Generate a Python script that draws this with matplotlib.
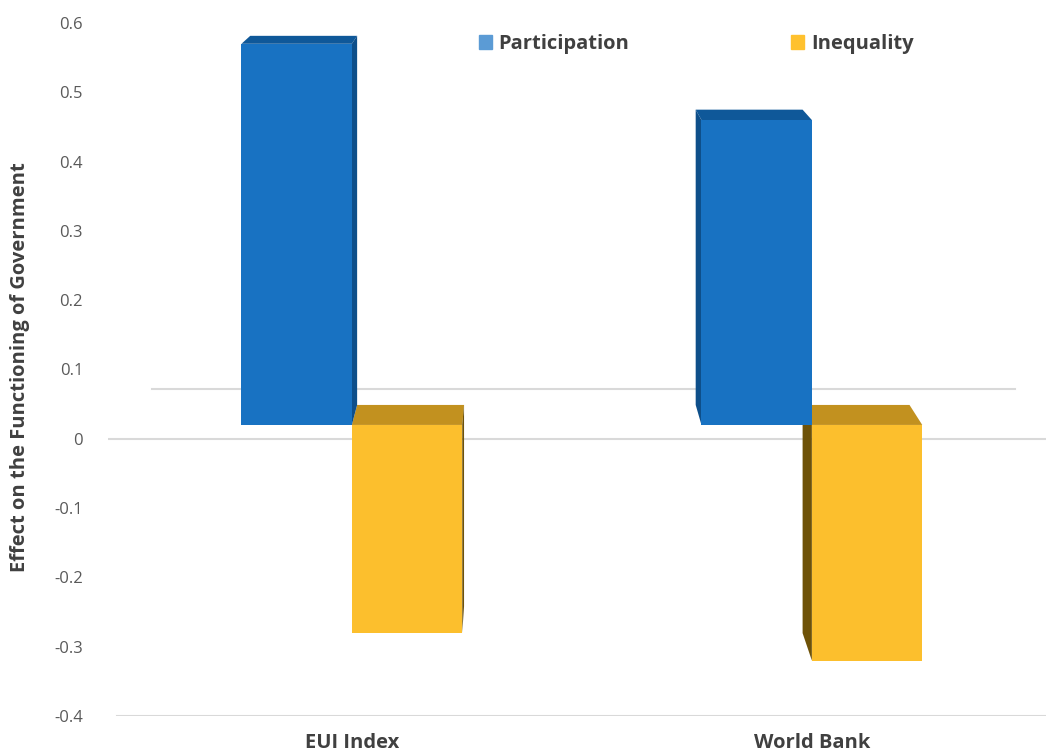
import matplotlib.pyplot as plt
from matplotlib.patches import Polygon, Patch

categories = ["EUI Index", "World Bank"]
participation = [0.55, 0.44]
inequality = [-0.30, -0.34]
yticks = [0.6, 0.5, 0.4, 0.3, 0.2, 0.1, 0, -0.1, -0.2, -0.3, -0.4]

plt.rcParams["font.family"] = ["Open Sans", "DejaVu Sans"]

fig = plt.figure(figsize=(10.46, 7.54), dpi=100)
ax = fig.add_axes([0.1033, 0.0504, 0.8967, 0.9191])

# fake 3D: bars are lifted a bit and get a top and side face pulled toward a vanishing point
lift = 0.02
vp = (0.363, 0.933)
k = 0.0316
width = 0.24


def back(x, y):
    return (x + (vp[0] - x) * k, y + (vp[1] - y) * k)


def box(x_center, value, front, dark, top_col, z):
    x0, x1 = x_center - width / 2, x_center + width / 2
    lo, hi = (lift, lift + value) if value > 0 else (lift + value, lift)
    top = [(x0, hi), (x1, hi), back(x1, hi), back(x0, hi)]
    ax.add_patch(Polygon(top, closed=True, facecolor=top_col, edgecolor="none", zorder=z))
    xe = x1 if x1 < vp[0] else x0
    side = [(xe, lo), (xe, hi), back(xe, hi), back(xe, lo)]
    ax.add_patch(Polygon(side, closed=True, facecolor=dark, edgecolor="none", zorder=z))
    ax.bar(x_center, value, width=width, bottom=lift, color=front, linewidth=0, zorder=z + 1)


xs = list(range(len(categories)))
for i, x in enumerate(xs):
    box(x + 0.12, inequality[i], "#FCBF2D", "#6E5208", "#C2911F", 2)
for i, x in enumerate(xs):
    box(x - 0.12, participation[i], "#1872C2", "#0E4F8A", "#0F5899", 4)

# gridlines that show in the original
ax.plot([-0.53, 1.51], [0, 0], color="#d9d9d9", lw=1.5, zorder=1)
ax.plot([-0.51, 1.51], [-0.4, -0.4], color="#d9d9d9", lw=1.5, zorder=1)
ax.plot([-0.435, 1.441], [0.072, 0.072], color="#d9d9d9", lw=1.5, zorder=1)

ax.set_xlim(-0.53, 1.509)
ax.set_ylim(-0.4, 0.6)
ax.set_yticks(yticks)
ax.set_yticklabels([f"{t:g}" for t in yticks], color="#595959", fontsize=12)
ax.set_xticks(xs)
ax.set_xticklabels(categories, fontsize=14.5, fontweight="bold", color="#404040")
ax.get_xticklabels()[1].set_x(1.02)
ax.tick_params(axis="y", length=0, pad=18)
ax.tick_params(axis="x", length=0, pad=12)
for s in ax.spines.values():
    s.set_visible(False)

fig.text(0.019, 0.513, "Effect on the Functioning of Government", rotation=90,
         ha="center", va="center", fontsize=14.5, fontweight="bold", color="#404040")

handles = [Patch(color="#5B9BD5", label="Participation"),
           Patch(color="#FFC12E", label="Inequality")]
ax.legend(handles=handles, ncol=2, loc="center", bbox_to_anchor=(696 / 1046, 1 - 44 / 754),
          bbox_transform=fig.transFigure, frameon=False, handlelength=0.65, handleheight=0.65,
          handletextpad=0.35, columnspacing=8.0,
          prop={"size": 14.5, "weight": "bold"}, labelcolor="#404040")

fig.savefig("out.png", dpi=100)
